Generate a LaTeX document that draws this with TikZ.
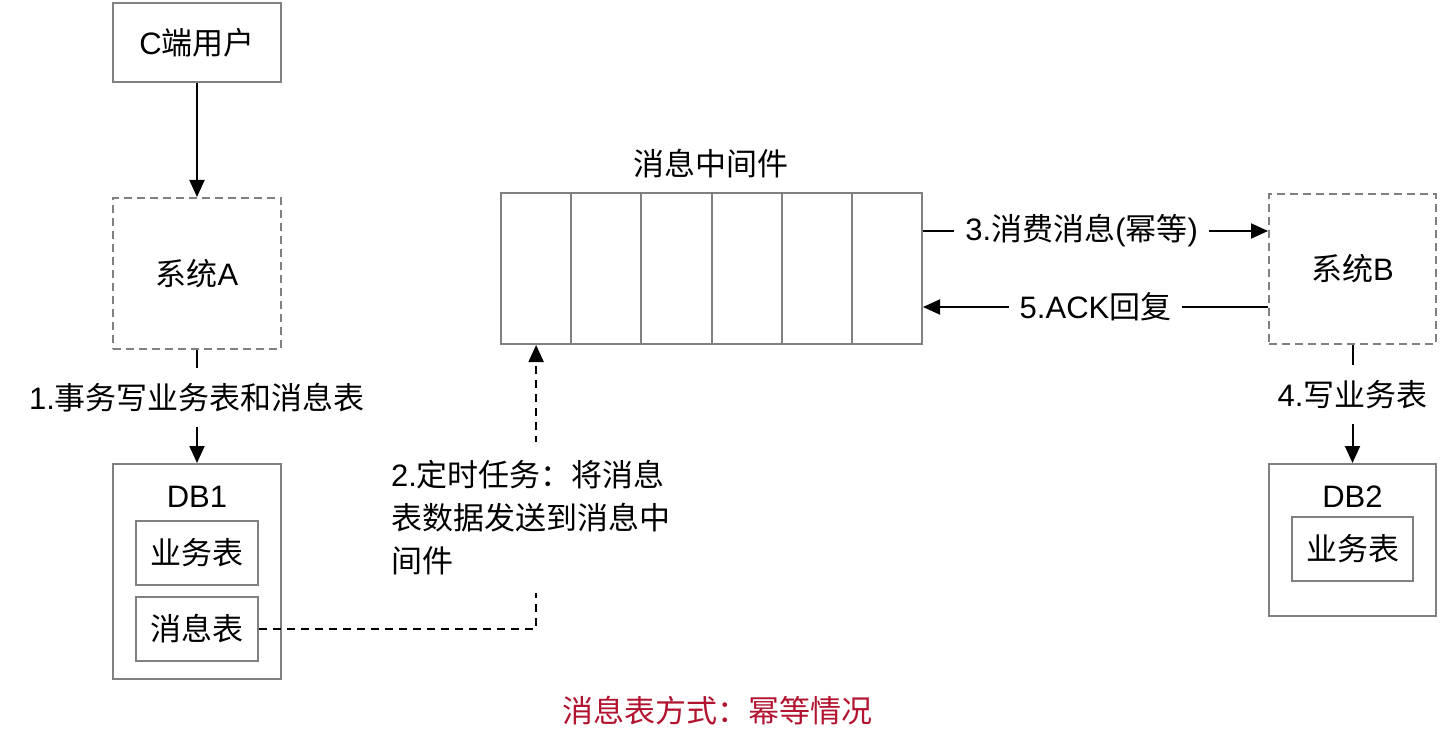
\documentclass[tikz,border=0pt]{standalone}
\usepackage{fontspec}
\setmainfont{Liberation Sans}
\newfontfamily\cjk{Noto Sans CJK SC}
\usetikzlibrary{arrows.meta}
\definecolor{boxgray}{RGB}{128,128,128}
\definecolor{capred}{RGB}{178,20,48}
\begin{document}
\begin{tikzpicture}[x=1pt,y=-1pt,
  every node/.style={font=\fontsize{31}{43}\selectfont},
  gbox/.style={draw=boxgray,line width=2pt,inner sep=0pt},
  dbox/.style={gbox,dash pattern=on 8pt off 5pt},
  arr/.style={line width=2pt,-{Triangle[length=17pt,width=15pt]}},
  darr/.style={arr,dash pattern=on 8pt off 6pt},
  lbl/.style={fill=white,inner xsep=11pt,inner ysep=15pt}]
\useasboundingbox (0,0) rectangle (1448,730);
% left column
\node[gbox,minimum width=168pt,minimum height=79pt] (user) at (197,42.5) {C{\cjk 端用户}};
\node[dbox,minimum width=168pt,minimum height=151pt] (sysA) at (197,273.5) {{\cjk 系统}A};
\node[gbox,minimum width=168pt,minimum height=215pt] (db1) at (197,571.5) {};
\node (db1t) at (197,497) {DB1};
\node[gbox,minimum width=122pt,minimum height=64pt] (biz1) at (197,553) {\cjk 业务表};
\node[gbox,minimum width=122pt,minimum height=64pt] (msg1) at (197,629) {\cjk 消息表};
% queue
\foreach \i in {1,...,6}
  \node[gbox,minimum width=70.17pt,minimum height=151pt] (q\i) at ({501+70.17*(\i-0.5)},268.5) {};
\node (qt) at (711,164) {\cjk 消息中间件};
% right column
\node[dbox,minimum width=167pt,minimum height=150pt] (sysB) at (1352.5,269) {{\cjk 系统}B};
\node[gbox,minimum width=167pt,minimum height=152pt] (db2) at (1352.5,540) {};
\node (db2t) at (1352.5,497) {DB2};
\node[gbox,minimum width=121pt,minimum height=64pt] (biz2) at (1352.5,549) {\cjk 业务表};
% caption
\node[text=capred] (cap) at (717,711) {\cjk 消息表方式：幂等情况};
% connectors
\coordinate (y3) at (0,231);
\coordinate (y5) at (0,307);
\draw[arr] (user) -- (sysA);
\draw[arr] (sysA) -- node[lbl,pos=0.42] {1.{\cjk 事务写业务表和消息表}} (db1);
\draw[arr] (q6.east |- y3) -- node[lbl,pos=0.46] {3.{\cjk 消费消息}({\cjk 幂等})} (sysB.west |- y3);
\draw[arr] (sysB.west |- y5) -- node[lbl,pos=0.5] {5.ACK{\cjk 回复}} (q6.east |- y5);
\draw[arr] (sysB) -- node[lbl,pos=0.42] {4.{\cjk 写业务表}} (db2);
\draw[darr] (msg1.east) -| node[lbl,pos=0.697,text width=290pt,align=left,inner ysep=18pt] {2.{\cjk 定时任务：将消息}\\{\cjk 表数据发送到消息中}\\{\cjk 间件}} (q1.south);
\end{tikzpicture}
\end{document}
